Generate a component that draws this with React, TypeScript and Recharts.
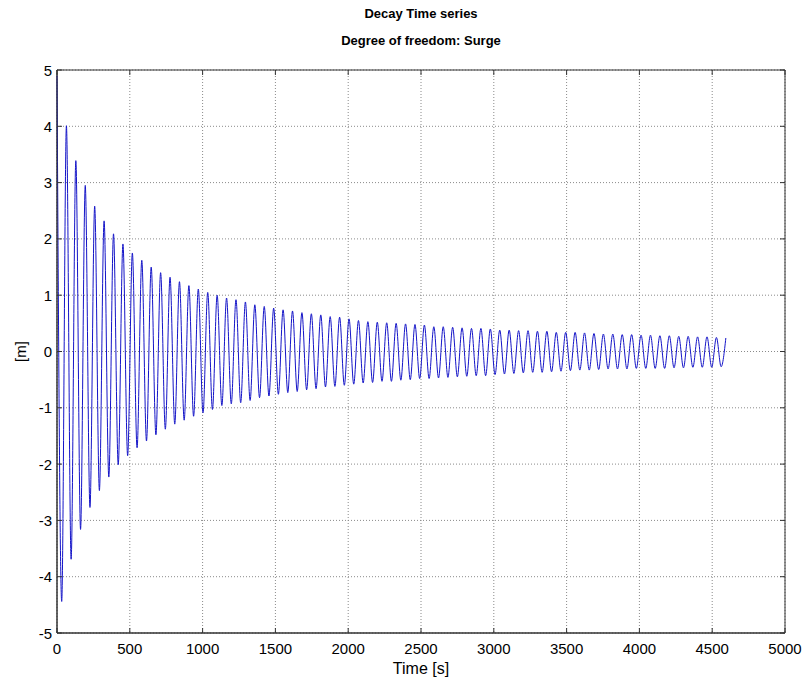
import React from 'react';
import { LineChart, Line, XAxis, YAxis, CartesianGrid, ReferenceArea } from 'recharts';

// alternating peaks / troughs of the decay record
const xTicks = [0, 500, 1000, 1500, 2000, 2500, 3000, 3500, 4000, 4500, 5000];
const yTicks = [-5, -4, -3, -2, -1, 0, 1, 2, 3, 4, 5];

// time between a crest and the next trough (half the natural period), seconds
const sampleStep = 32.35;

const peakValues = [
  4.9, 4.01, 3.39, 2.95, 2.58, 2.32, 2.09, 1.91, 1.75, 1.62,
  1.5, 1.4, 1.32, 1.24, 1.17, 1.11, 1.05, 1.0, 0.95, 0.92,
  0.88, 0.83, 0.8, 0.77, 0.74, 0.72, 0.69, 0.67, 0.65, 0.62,
  0.61, 0.58, 0.55, 0.53, 0.52, 0.51, 0.5, 0.49, 0.48, 0.47,
  0.44, 0.44, 0.43, 0.42, 0.41, 0.41, 0.4, 0.38, 0.38, 0.37,
  0.37, 0.36, 0.36, 0.34, 0.34, 0.34, 0.33, 0.32, 0.31, 0.31,
  0.3, 0.3, 0.29, 0.29, 0.28, 0.28, 0.27, 0.27, 0.26, 0.26,
  0.25, 0.24,
];

const troughValues = [
  -4.44, -3.69, -3.16, -2.77, -2.47, -2.23, -2.01, -1.85, -1.71, -1.59,
  -1.48, -1.38, -1.29, -1.22, -1.15, -1.09, -1.03, -0.96, -0.93, -0.91,
  -0.87, -0.82, -0.79, -0.76, -0.73, -0.71, -0.68, -0.66, -0.63, -0.62,
  -0.6, -0.58, -0.56, -0.55, -0.53, -0.53, -0.51, -0.5, -0.48, -0.48,
  -0.47, -0.46, -0.45, -0.44, -0.43, -0.43, -0.41, -0.4, -0.39, -0.38,
  -0.37, -0.37, -0.36, -0.35, -0.34, -0.33, -0.33, -0.32, -0.31, -0.31,
  -0.31, -0.3, -0.3, -0.3, -0.3, -0.29, -0.29, -0.28, -0.28, -0.28,
  -0.27,
];

const data: { t: number; surge: number }[] = [];
for (let i = 0; i < peakValues.length + troughValues.length; i++) {
  const v = i % 2 === 0 ? peakValues[i / 2] : troughValues[(i - 1) / 2];
  data.push({ t: i * sampleStep, surge: v });
}

const W = 804;
const H = 683;
const LEFT = 57;
const RIGHT = 785;
const TOP = 70;
const BOTTOM = 633;
const FONT = "'Liberation Sans', Arial, sans-serif";
const AXIS = '#333';

const XTick = (props: any) => {
  const { x, payload } = props;
  return (
    <g>
      <line x1={x} x2={x} y1={BOTTOM} y2={BOTTOM - 5} stroke={AXIS} />
      <line x1={x} x2={x} y1={TOP} y2={TOP + 5} stroke={AXIS} />
      <text x={x} y={648} textAnchor="middle" dominantBaseline="central" fontSize={15} fontFamily={FONT} fill="#000">
        {payload.value}
      </text>
    </g>
  );
};

const YTick = (props: any) => {
  const { y, payload } = props;
  return (
    <g>
      <line x1={LEFT} x2={LEFT + 5} y1={y} y2={y} stroke={AXIS} />
      <line x1={RIGHT} x2={RIGHT - 5} y1={y} y2={y} stroke={AXIS} />
      <text x={52} y={y} textAnchor="end" dominantBaseline="central" fontSize={15} fontFamily={FONT} fill="#000">
        {payload.value}
      </text>
    </g>
  );
};

export default function App() {
  return (
    <div style={{ position: 'absolute', left: 0, top: 0, width: W, height: H, background: '#fff' }}>
      <div style={{ position: 'absolute', left: LEFT, width: RIGHT - LEFT, top: 6, textAlign: 'center', fontFamily: FONT, fontWeight: 'bold', fontSize: 13 }}>
        Decay Time series
      </div>
      <div style={{ position: 'absolute', left: LEFT, width: RIGHT - LEFT, top: 33, textAlign: 'center', fontFamily: FONT, fontWeight: 'bold', fontSize: 13 }}>
        Degree of freedom: Surge
      </div>
      <LineChart width={W} height={H} data={data} margin={{ top: TOP, right: W - RIGHT, bottom: 0, left: 0 }}>
        <CartesianGrid stroke="#8a8a8a" strokeDasharray="1 2" />
        <XAxis
          dataKey="t"
          type="number"
          domain={[0, 5000]}
          ticks={xTicks}
          height={H - BOTTOM}
          tick={<XTick />}
          tickLine={false}
          axisLine={{ stroke: AXIS }}
          label={{
            content: () => (
              <text x={(LEFT + RIGHT) / 2} y={668} textAnchor="middle" dominantBaseline="central" fontSize={16} fontFamily={FONT}>
                Time [s]
              </text>
            ),
          }}
        />
        <YAxis
          type="number"
          domain={[-5, 5]}
          ticks={yTicks}
          width={LEFT}
          tick={<YTick />}
          tickLine={false}
          axisLine={{ stroke: AXIS }}
          label={{
            content: () => (
              <text x={20} y={(TOP + BOTTOM) / 2} textAnchor="middle" dominantBaseline="central" fontSize={15} fontFamily={FONT} transform={`rotate(-90 20 ${(TOP + BOTTOM) / 2})`}>
                [m]
              </text>
            ),
          }}
        />
        <ReferenceArea x1={0} x2={5000} y1={-5} y2={5} fill="none" stroke={AXIS} strokeOpacity={1} />
        <Line
          type="monotone"
          dataKey="surge"
          stroke="#1414c8"
          strokeWidth={1}
          dot={false}
          isAnimationActive={false}
        />
      </LineChart>
    </div>
  );
}
